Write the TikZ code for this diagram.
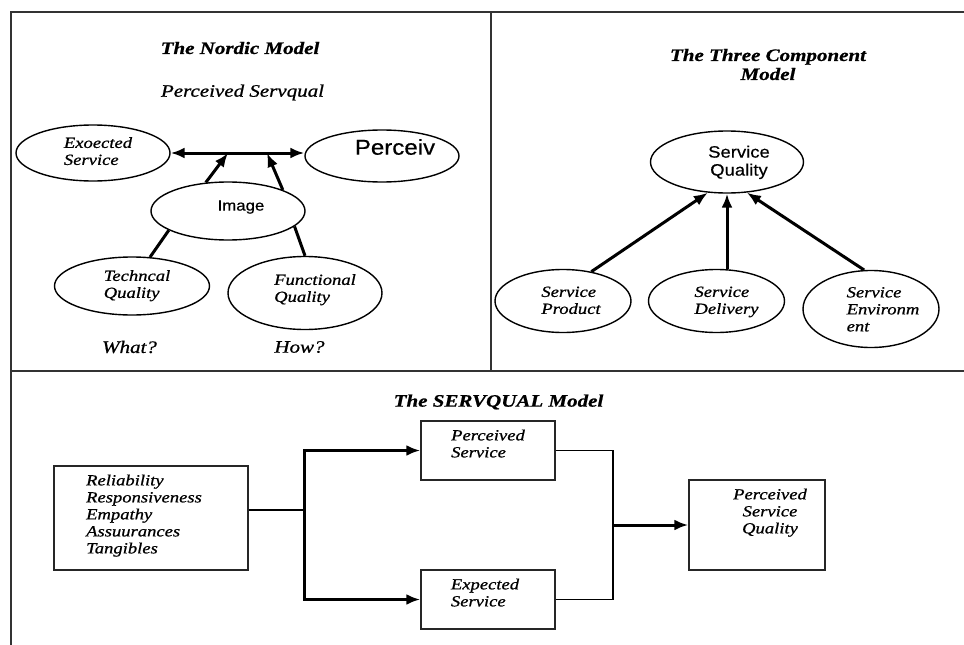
\documentclass[tikz,border=0pt]{standalone}
\usepackage{fontspec}
\setmainfont{Liberation Serif}[FakeStretch=1.2,FakeBold=0.8]
\newfontfamily\sansf{Liberation Sans}[FakeStretch=1.12,FakeBold=0.5]
\usetikzlibrary{shapes.geometric,arrows.meta}
\newcommand\sh[3]{\raisebox{#2}[\height][\depth]{\hspace*{#1}#3\hspace*{-#1}}}
\newcommand\tl[1]{\begin{tabular}{@{}l@{}}#1\end{tabular}}
\newcommand\tc[1]{\begin{tabular}{@{}c@{}}#1\end{tabular}}
\begin{document}
\begin{tikzpicture}[x=1pt,y=-1pt,
  ell/.style={draw, ellipse, inner sep=0pt, line width=1.4pt},
  box/.style={draw=black!85, rectangle, inner sep=0pt, line width=1.5pt},
  thk/.style={line width=3pt},
  thn/.style={line width=1.3pt},
  arr/.style={-{Latex[length=14pt,width=11pt]}},
  dbl/.style={{Latex[length=14pt,width=11pt]}-{Latex[length=14pt,width=11pt]}},
  frame/.style={draw=black!80, line width=2.2pt},
  fin/.style={font=\fontsize{15.5}{17}\selectfont\itshape},
  fout/.style={font=\fontsize{17.5}{19}\selectfont\itshape},
  fti/.style={font=\fontsize{17.5}{19}\selectfont\bfseries\itshape},
  fsa/.style={font=\sansf\fontsize{15}{18}\selectfont},
  fsb/.style={font=\sansf\fontsize{16.5}{18}\selectfont},
  fsc/.style={font=\sansf\fontsize{21.5}{24}\selectfont}
]
\useasboundingbox (0,0) rectangle (964,645);
% frame
\draw[frame] (11,645) -- (11,12) -- (964,12);
\draw[frame] (491,12) -- (491,371);
\draw[frame] (11,371) -- (964,371);

% ---------------- Nordic model
\node[fti] (t1) at (240,48) {The Nordic Model};
\node[fout] (t1b) at (242.5,92.5) {Perceived Servqual};
\node[ell, minimum width=154pt, minimum height=56pt, fin] (exs) at (93,153) {\sh{5pt}{0pt}{\tl{Exoected\\Service}}};
\node[ell, minimum width=154pt, minimum height=52pt, fsc] (per) at (382,156) {\sh{13pt}{9pt}{Perceiv}};
\node[ell, minimum width=154pt, minimum height=58pt, fsa] (img) at (228,211) {\sh{13pt}{4pt}{Image}};
\node[ell, minimum width=155pt, minimum height=58pt, fin] (tec) at (132,286) {\sh{5pt}{0pt}{\tl{Techncal\\Quality}}};
\node[ell, minimum width=154pt, minimum height=73pt, fin] (fun) at (305,293) {\sh{10pt}{3pt}{\tl{Functional\\Quality}}};
\coordinate (ha) at (228,153);
\coordinate (hb) at (267,153);
\draw[thk, dbl] (exs.east) -- (exs.east -| per.west);
\draw[thk, arr] (img.128) -- (ha);
\draw[thk, arr] (img.21) -- (hb);
\draw[thk] (tec.58) -- (img.198);
\draw[thk] (fun.north) -- (img.-13);
\node[fout] (w1) at (129.5,347) {What?};
\node[fout] (w2) at (299.5,347) {How?};

% ---------------- Three component model
\node[fti, align=center] (t2) at (768,64.5) {The Three Component\\Model};
\node[ell, minimum width=153pt, minimum height=62pt, fsb] (sq) at (727,162) {\sh{12pt}{-1pt}{\tc{Service\\Quality}}};
\node[ell, minimum width=136pt, minimum height=63pt, fin] (sp) at (563,301) {\sh{8pt}{-1pt}{\tl{Service\\Product}}};
\node[ell, minimum width=136pt, minimum height=63pt, fin] (sd) at (716.5,301) {\sh{10pt}{-1pt}{\tl{Service\\Delivery}}};
\node[ell, minimum width=136pt, minimum height=77pt, fin] (se) at (871,309) {\sh{12pt}{-2pt}{\tl{Service\\Environm\\ent}}};
\draw[thk, arr] (sp.46) -- (sq.238);
\draw[thk, arr] (sq.south |- sd.north) -- (sq.south);
\draw[thk, arr] (se.100) -- (sq.303);

% ---------------- SERVQUAL model
\node[fti] (t3) at (498.5,402) {The SERVQUAL Model};
\node[box, minimum width=194pt, minimum height=104pt, fin] (dims) at (151,518) {\sh{-7pt}{2pt}{\tl{Reliability\\Responsiveness\\Empathy\\Assuurances\\Tangibles}}};
\node[box, minimum width=134pt, minimum height=59pt, fin] (ps) at (488,450.5) {\sh{0pt}{5pt}{\tl{Perceived\\Service}}};
\node[box, minimum width=134pt, minimum height=59pt, fin] (es) at (488,599.5) {\sh{-3pt}{5pt}{\tl{Expected\\Service}}};
\node[box, minimum width=136pt, minimum height=90pt, fin] (res) at (757,525) {\sh{13pt}{12pt}{\tc{Perceived\\Service\\Quality}}};
\coordinate (j1) at (304,510);
\coordinate (j2) at (613,525);
\draw[thn] (j1 -| dims.east) -- (j1);
\draw[thk, arr] (j1) |- (ps.west);
\draw[thk, arr] (j1) |- (es.west);
\draw[thn] (ps.east) -| (j2) |- (es.east);
\draw[thk, arr] (j2) -- (res.west);
\end{tikzpicture}
\end{document}
